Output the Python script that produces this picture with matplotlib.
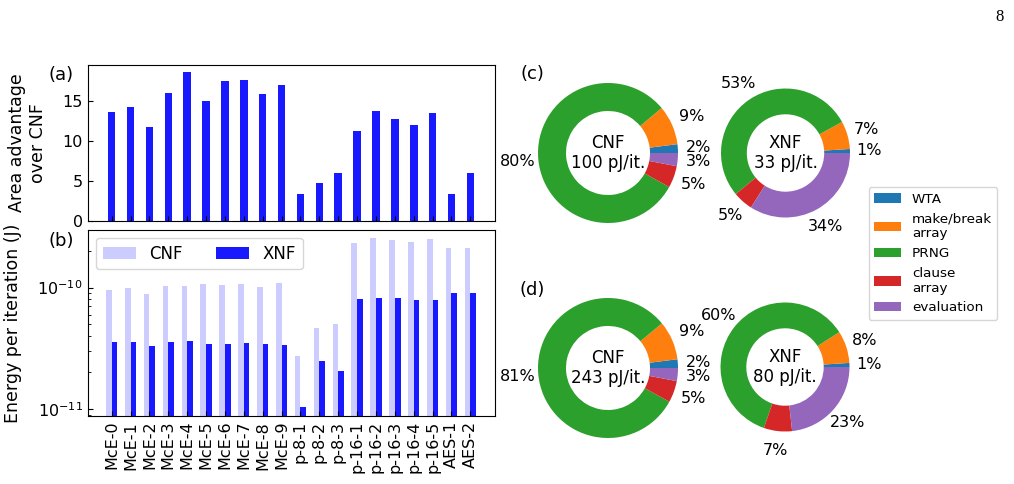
import numpy as np
import matplotlib
matplotlib.use('Agg')
import matplotlib.pyplot as plt

# Benchmarks on the x axis
benchmarks = ['McE-0', 'McE-1', 'McE-2', 'McE-3', 'McE-4', 'McE-5', 'McE-6',
              'McE-7', 'McE-8', 'McE-9', 'p-8-1', 'p-8-2', 'p-8-3', 'p-16-1',
              'p-16-2', 'p-16-3', 'p-16-4', 'p-16-5', 'AES-1', 'AES-2']

# (a) area advantage of XNF over CNF
area_adv = [13.6, 14.25, 11.75, 15.9, 18.5, 14.9, 17.4, 17.5, 15.8, 16.9,
            3.4, 4.75, 6.0, 11.25, 13.75, 12.75, 12.0, 13.5, 3.4, 6.0]

# (b) energy per iteration (J)
cnf_energy = [9.6e-11, 1.0e-10, 8.9e-11, 1.03e-10, 1.03e-10, 1.07e-10, 1.05e-10,
              1.07e-10, 1.01e-10, 1.09e-10, 2.74e-11, 4.65e-11, 5.0e-11, 2.33e-10,
              2.57e-10, 2.47e-10, 2.38e-10, 2.52e-10, 2.12e-10, 2.12e-10]
xnf_energy = [3.56e-11, 3.56e-11, 3.3e-11, 3.56e-11, 3.63e-11, 3.43e-11, 3.43e-11,
              3.5e-11, 3.43e-11, 3.37e-11, 1.04e-11, 2.49e-11, 2.06e-11, 8.07e-11,
              8.22e-11, 8.22e-11, 7.93e-11, 7.93e-11, 9.04e-11, 9.04e-11]

# (c)/(d) energy breakdown (%)
parts = ['WTA', 'make/break\narray', 'PRNG', 'clause\narray', 'evaluation']
part_colors = ['C0', 'C1', 'C2', 'C3', 'C4']
cnf_c = [2, 9, 80, 5, 3]
xnf_c = [1, 7, 53, 5, 34]
cnf_d = [2, 9, 81, 5, 3]
xnf_d = [1, 8, 60, 7, 23]
totals = ['100', '33', '243', '80']

plt.rcParams['font.size'] = 11.5
plt.rcParams['axes.labelsize'] = 12.5
plt.rcParams['xtick.direction'] = 'in'
plt.rcParams['ytick.direction'] = 'in'

W, H = 1014, 484
fig = plt.figure(figsize=(W / 100, H / 100), dpi=100)

axb = fig.add_axes([0.0863, 0.1405, 0.4014, 0.3849])
axa = fig.add_axes([0.0863, 0.5434, 0.4014, 0.3223], sharex=axb)

x = np.arange(len(benchmarks))
axa.bar(x, area_adv, width=0.4, color='blue', alpha=0.9)
axa.set_ylabel('Area advantage\nover CNF')
axa.yaxis.set_label_coords(-0.0995, 0.5)
axa.tick_params(labelbottom=False)
axa.set_yticks([0, 5, 10, 15])

axb.bar(x, cnf_energy, width=-0.3, align='edge', color='blue', alpha=0.2, label='CNF')
axb.bar(x, xnf_energy, width=0.3, align='edge', color='blue', alpha=0.9, label='XNF')
axb.set_yscale('log')
axb.set_ylim(8.75e-12, 3.0e-10)
axb.set_ylabel('Energy per iteration (J)')
axb.yaxis.set_label_coords(-0.161, 0.5)
axb.set_xticks(x)
axb.set_xticklabels(benchmarks, rotation=90)
axb.legend(loc='upper left', ncol=2, fontsize=12)

fig.text(61 / W, 1 - 75 / H, '(a)', ha='center', va='center', fontsize=13)
fig.text(61 / W, 1 - 241 / H, '(b)', ha='center', va='center', fontsize=13)
fig.text(532 / W, 1 - 74 / H, '(c)', ha='center', va='center', fontsize=13)
fig.text(532 / W, 1 - 290 / H, '(d)', ha='center', va='center', fontsize=13)


def pie_axes(cx, cy, r):
    s = 2.5 * r
    return fig.add_axes([(cx - s / 2) / W, (H - cy - s / 2) / H, s / W, s / H])


def donut(ax, vals, name, total):
    tot = sum(vals)
    wedges, _, _ = ax.pie(vals, colors=part_colors, startangle=0,
                          wedgeprops=dict(width=0.4),
                          autopct=lambda p: '%.0f%%' % (p * tot / 100),
                          pctdistance=1.3)
    ax.text(0, 0, name + '\n' + total + ' pJ/it.', ha='center', va='center',
            fontsize=12)
    return wedges


wedges = donut(pie_axes(608, 153, 70), cnf_c, 'CNF', totals[0])
donut(pie_axes(785.5, 153, 64.5), xnf_c, 'XNF', totals[1])
donut(pie_axes(608, 368, 70), cnf_d, 'CNF', totals[2])
donut(pie_axes(785, 367, 64.5), xnf_d, 'XNF', totals[3])

fig.legend(wedges, parts, loc='center', bbox_to_anchor=(933 / W, 1 - 253.5 / H),
           fontsize=9.7)

fig.text(1000 / W, 1 - 17 / H, '8', family='Liberation Serif', fontsize=12,
         ha='center', va='center')

fig.savefig('out.png', dpi=100)
